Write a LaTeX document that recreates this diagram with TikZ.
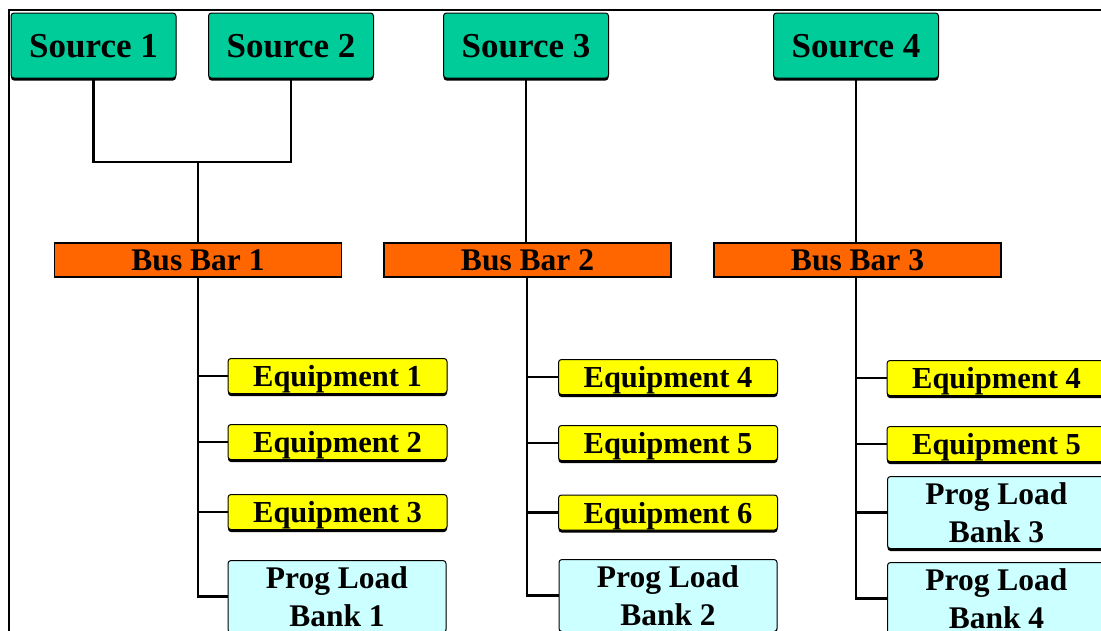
\documentclass[tikz,border=0pt]{standalone}
\usepackage{fontspec}
\setmainfont{Liberation Serif}
\usetikzlibrary{shadows}
\definecolor{srcgreen}{RGB}{0,204,153}
\definecolor{busorange}{RGB}{255,102,0}
\definecolor{equipyellow}{RGB}{255,255,0}
\definecolor{loadcyan}{RGB}{204,255,255}
\tikzset{
  boxbase/.style={draw=black, line width=1pt, rounded corners=3pt, inner sep=0pt,
    align=center, drop shadow={shadow xshift=0pt, shadow yshift=-2.5pt, fill=black, opacity=1}},
  source/.style={boxbase, fill=srcgreen, minimum width=165pt, minimum height=65pt,
    text depth=0pt, font=\fontsize{35}{40}\selectfont\bfseries},
  busbar/.style={draw=black, line width=1.5pt, fill=busorange, inner sep=0pt,
    minimum width=287pt, minimum height=34pt, text depth=0pt,
    font=\fontsize{31.5}{36}\selectfont\bfseries},
  equip/.style={boxbase, fill=equipyellow, minimum width=219pt, minimum height=35pt,
    text depth=0pt, font=\fontsize{30.5}{36}\selectfont\bfseries},
  progload/.style={boxbase, fill=loadcyan, minimum width=218pt, minimum height=72pt,
    font=\fontsize{31.5}{38}\selectfont\bfseries},
  wire/.style={draw=black, line width=2.3pt},
  frameline/.style={draw=black, line width=2.3pt}
}
\begin{document}
\begin{tikzpicture}[x=1pt, y=-1pt]
\useasboundingbox (0,0) rectangle (1101,630);
\clip (0,0) rectangle (1101,630);
% outer frame
\draw[frameline] (9,640) -- (9,10) -- (1120,10);

% sources
\node[source] (s1) at (93.5,45.5) {Source 1};
\node[source] (s2) at (291,45.5) {Source 2};
\node[source] (s3) at (526,45.5) {Source 3};
\node[source] (s4) at (856,45.5) {Source 4};

% bus bars
\node[busbar] (bb1) at (198,260) {Bus Bar 1};
\node[busbar] (bb2) at (527.5,260) {Bus Bar 2};
\node[busbar] (bb3) at (857.5,260) {Bus Bar 3};

% loads on bus bar 1
\node[equip] (e1) at (337.5,376) {Equipment 1};
\node[equip] (e2) at (337.5,442) {Equipment 2};
\node[equip] (e3) at (337.5,512) {Equipment 3};
\node[progload] (p1) at (337,596.5) {Prog Load\\Bank 1};

% loads on bus bar 2
\node[equip] (e4) at (668,377) {Equipment 4};
\node[equip] (e5) at (668,443) {Equipment 5};
\node[equip] (e6) at (668,512.5) {Equipment 6};
\node[progload] (p2) at (668,595.5) {Prog Load\\Bank 2};

% loads on bus bar 3
\node[equip] (f4) at (996.5,378) {Equipment 4};
\node[equip] (f5) at (996.5,444) {Equipment 5};
\node[progload] (p3) at (996.5,512.5) {Prog Load\\Bank 3};
\node[progload] (p4) at (996.5,598.5) {Prog Load\\Bank 4};

% feeders from the sources
\coordinate (j1) at (198,162);
\draw[wire] (s1.south) |- (j1) -| (s2.south);
\draw[wire] (j1) -- (bb1.north);
\draw[wire] (s3.south) -- (s3.south |- bb2.north);
\draw[wire] (s4.south) -- (s4.south |- bb3.north);

% distribution from bus bar 1
\coordinate (t1) at (198,277);
\draw[wire] (t1) |- (p1.west);
\foreach \n in {e1,e2,e3} \draw[wire] (t1 |- \n.west) -- (\n.west);

% distribution from bus bar 2
\coordinate (t2) at (527,277);
\draw[wire] (t2) |- (p2.west);
\foreach \n in {e4,e5,e6} \draw[wire] (t2 |- \n.west) -- (\n.west);

% distribution from bus bar 3
\coordinate (t3) at (856,277);
\draw[wire] (t3) |- (p4.west);
\foreach \n in {f4,f5,p3} \draw[wire] (t3 |- \n.west) -- (\n.west);
\end{tikzpicture}
\end{document}
